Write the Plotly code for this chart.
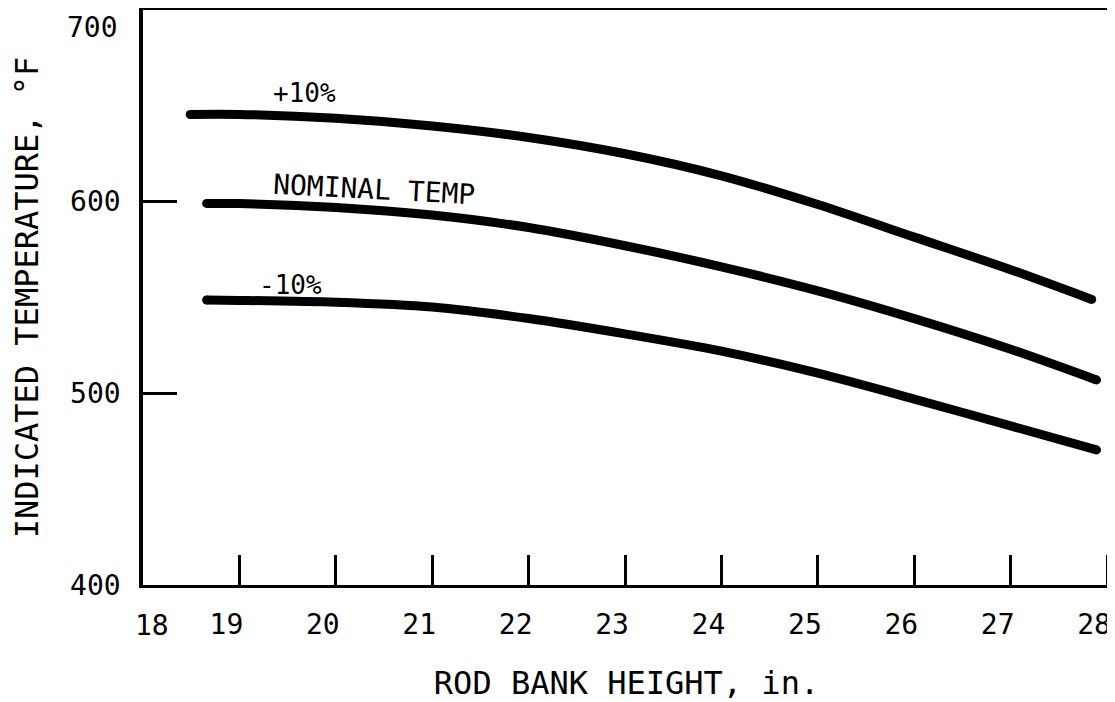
import plotly.graph_objects as go

# ---- data ----
x_plus = [18.49, 19, 20, 21, 22, 23, 24, 25, 26, 27, 27.84]
y_plus = [645.5, 645.5, 643.5, 639.5, 633.5, 625, 613.5, 598.5, 581.5, 564.5, 549]

x_nom = [18.66, 19, 20, 21, 22, 23, 24, 25, 26, 27, 27.89]
y_nom = [599.1, 599, 597, 593, 586.5, 577, 566, 553.5, 539, 523, 507]

x_minus = [18.66, 19, 20, 21, 22, 23, 24, 25, 26, 27, 27.89]
y_minus = [548.7, 548.5, 547.5, 545, 539, 531, 522, 510.5, 497, 483, 470.5]

x_ticks = [19, 20, 21, 22, 23, 24, 25, 26, 27, 28]
y_ticks = [400, 500, 600]

FONT = "DejaVu Sans Mono"
INK = "black"

fig = go.Figure()
for xs, ys in [(x_plus, y_plus), (x_nom, y_nom), (x_minus, y_minus)]:
    fig.add_trace(go.Scatter(x=xs, y=ys, mode="lines",
                             line=dict(color=INK, width=9, shape="spline", smoothing=0.8),
                             hoverinfo="skip", showlegend=False))
    fig.add_trace(go.Scatter(x=[xs[0], xs[-1]], y=[ys[0], ys[-1]], mode="markers",
                             marker=dict(color=INK, size=9),
                             hoverinfo="skip", showlegend=False))

fig.add_annotation(x=19.67, y=656.5, xref="x", yref="y", text="+10%", showarrow=False,
                   font=dict(family=FONT, size=26, color=INK))
fig.add_annotation(x=20.4, y=606.5, xref="x", yref="y", text="NOMINAL TEMP", showarrow=False,
                   textangle=3, font=dict(family=FONT, size=28, color=INK))
fig.add_annotation(x=19.53, y=556.5, xref="x", yref="y", text="-10%", showarrow=False,
                   font=dict(family=FONT, size=26, color=INK))

# corner tick labels
fig.add_annotation(x=18.09, y=-0.0696, xref="x", yref="paper", text="18", showarrow=False,
                   yanchor="middle", font=dict(family=FONT, size=28, color=INK))
fig.add_annotation(x=-0.024, y=691, xref="paper", yref="y", text="700", showarrow=False,
                   xanchor="right", yanchor="middle", font=dict(family=FONT, size=28, color=INK))

fig.update_xaxes(range=[18, 28.03], tickvals=x_ticks, ticktext=[str(v) for v in x_ticks],
                 ticks="inside", ticklen=30, tickwidth=2.5, tickcolor=INK,
                 showline=True, linewidth=3, linecolor=INK, mirror=True,
                 showgrid=False, zeroline=False, ticklabelshift=-13, ticklabelstandoff=12,
                 tickfont=dict(family=FONT, size=28, color=INK),
                 title=dict(text="ROD BANK HEIGHT, in.", standoff=40,
                            font=dict(family=FONT, size=32, color=INK)))
fig.update_yaxes(range=[400, 700], tickvals=y_ticks, ticktext=[str(v) for v in y_ticks],
                 ticks="inside", ticklen=34, tickwidth=2.5, tickcolor=INK,
                 showline=True, linewidth=3.5, linecolor=INK, mirror=True,
                 showgrid=False, zeroline=False, ticklabelstandoff=13,
                 tickfont=dict(family=FONT, size=28, color=INK),
                 title=dict(text="INDICATED TEMPERATURE, °F", standoff=26,
                            font=dict(family=FONT, size=32, color=INK)))

# the page adds an 8px body margin, so the figure is 8px smaller and margins shifted
fig.update_layout(width=1107, height=694, margin=dict(l=135, r=5, t=2, b=117, autoexpand=False),
                  paper_bgcolor="white", plot_bgcolor="white")

fig.write_html("out.html")
